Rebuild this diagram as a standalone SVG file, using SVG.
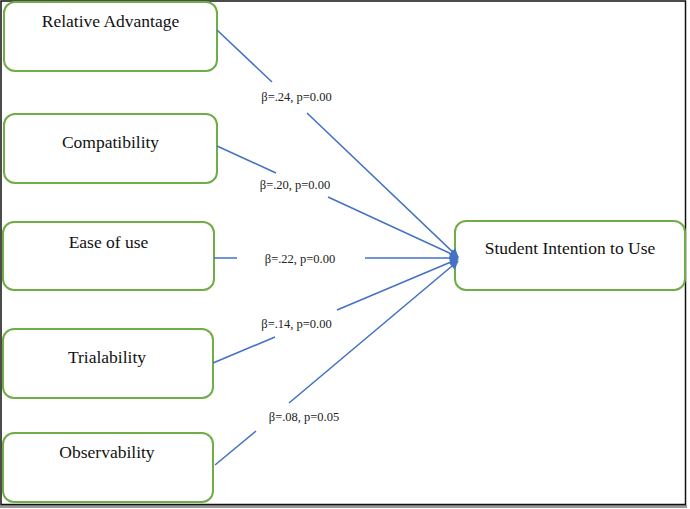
<svg xmlns="http://www.w3.org/2000/svg" width="690" height="509" viewBox="0 0 690 509">
<style>
.box{fill:#fff;stroke:#70AD47;stroke-width:2}
.t{font-size:17.5px;fill:#111;text-anchor:middle}
.lbl{font-size:12.5px;fill:#222;text-anchor:middle}
.c{fill:none;stroke:#4472C4;stroke-width:1.6;marker-end:url(#ah)}
</style>
<defs>
<marker id="ah" viewBox="0 0 10 10" refX="9" refY="5" markerWidth="12" markerHeight="9" orient="auto" markerUnits="userSpaceOnUse">
<path d="M0,0 L10,5 L0,10 Z" fill="#4472C4"/>
</marker>
</defs>
<rect x="0" y="0" width="690" height="509" fill="#fff"/>
<rect x="0" y="505" width="687" height="3" fill="#999"/>
<rect x="1" y="1" width="684.5" height="503.5" fill="none" stroke="#111" stroke-width="1.5"/>
<g font-family="'Liberation Serif', 'Times New Roman', Times, serif">
<g id="relative-advantage">
<rect class="box" x="4" y="2" width="213" height="69" rx="11"/>
<text class="t" x="110.5" y="27">Relative Advantage</text>
</g>
<g id="compatibility">
<rect class="box" x="4" y="114" width="213" height="69" rx="11"/>
<text class="t" x="110.5" y="148">Compatibility</text>
</g>
<g id="ease-of-use">
<rect class="box" x="3" y="222" width="211" height="68" rx="11"/>
<text class="t" x="108.5" y="248">Ease of use</text>
</g>
<g id="trialability">
<rect class="box" x="3" y="329" width="210" height="69" rx="11"/>
<text class="t" x="107" y="363">Trialability</text>
</g>
<g id="observability">
<rect class="box" x="3" y="433" width="210" height="69" rx="11"/>
<text class="t" x="107" y="458">Observability</text>
</g>
<g id="student-intention">
<rect class="box" x="455" y="221" width="230" height="69" rx="11"/>
<text class="t" x="570" y="254">Student Intention to Use</text>
</g>
</g>
<g id="connectors" font-family="'Liberation Serif', 'Times New Roman', Times, serif">
<path class="c" d="M217,30 L272,82 M307,113 L458,257"/>
<path class="c" d="M217,146 L276,173 M328,197 L458,257"/>
<path class="c" d="M214,258 L237,258 M365,258 L458,258"/>
<path class="c" d="M213,363 L275,337 M337,310 L458,259"/>
<path class="c" d="M215,465 L256,431 M289,403 L458,261"/>
<text class="lbl" x="296.5" y="101">β=.24, p=0.00</text>
<text class="lbl" x="295" y="189">β=.20, p=0.00</text>
<text class="lbl" x="300" y="263">β=.22, p=0.00</text>
<text class="lbl" x="296.5" y="328">β=.14, p=0.00</text>
<text class="lbl" x="304" y="421">β=.08, p=0.05</text>
</g>
</svg>
